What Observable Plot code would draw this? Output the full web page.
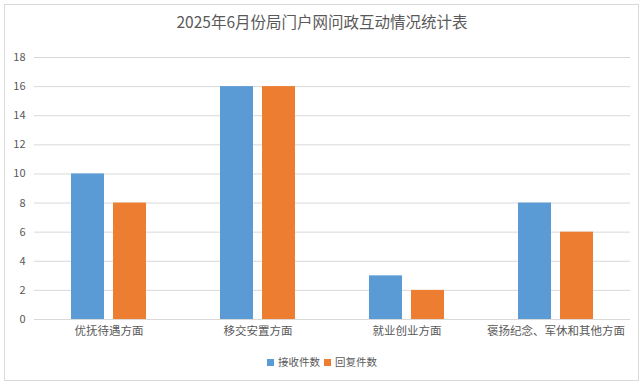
<!DOCTYPE html>
<html><head><meta charset="utf-8">
<script src="https://cdn.jsdelivr.net/npm/d3@7"></script>
<script src="https://cdn.jsdelivr.net/npm/@observablehq/plot@0.6"></script>
<style>
body{margin:0;background:#fff;font-family:"Noto Sans CJK SC","Noto Sans",sans-serif;}
#wrap{position:relative;width:644px;height:387px;}
#frame{position:absolute;left:4px;top:4px;width:635px;height:377px;border:1px solid #d9d9d9;box-sizing:border-box;}
#title{position:absolute;left:0;top:10px;width:644px;text-align:center;font-size:15.5px;color:#595959;}
#chart{position:absolute;left:0;top:45px;}
#legend{position:absolute;left:0;top:354px;width:644px;text-align:center;font-size:10.5px;color:#595959;}
#legend span.sw{display:inline-block;width:7px;height:7px;margin-right:4px;vertical-align:0px;}
#legend span.it{margin:0 2px;}
</style></head>
<body><div id="wrap"><div id="frame"></div>
<div id="title">2025年6月份局门户网问政互动情况统计表</div>
<div id="chart"></div>
<div id="legend"></div></div>
<script>
const categories = ["优抚待遇方面","移交安置方面","就业创业方面","褒扬纪念、军休和其他方面"];
const seriesNames = ["接收件数","回复件数"];
const received = [10,16,3,8];
const replied = [8,16,2,6];
const colors = ["#5B9BD5","#ED7D31"];
const yTicks = [0,2,4,6,8,10,12,14,16,18];

const data = [];
categories.forEach((c,i)=>{
  data.push({cat:c, series:seriesNames[0], value:received[i]});
  data.push({cat:c, series:seriesNames[1], value:replied[i]});
});

const chart = Plot.plot({
  width:644, height:300,
  marginLeft:33, marginRight:14, marginTop:12, marginBottom:26,
  style:{fontFamily:'"Noto Sans CJK SC","Noto Sans",sans-serif', color:"#595959", background:"transparent"},
  fx:{domain:categories, padding:0, label:null, axis:null},
  x:{domain:seriesNames, paddingInner:0.214, paddingOuter:0.88, axis:null},
  y:{domain:[0,18], ticks:yTicks, label:null, axis:null},
  color:{domain:seriesNames, range:colors},
  marks:[
    Plot.gridY(yTicks,{stroke:"#d9d9d9", strokeOpacity:1}),
    Plot.axisY({ticks:yTicks, tickSize:0, tickPadding:9, label:null, fontSize:11}),
    Plot.barY(data,{fx:"cat", x:"series", y:"value", fill:"series"}),
    Plot.axisFx({anchor:"bottom", tickSize:0, tickPadding:7, label:null, fontSize:11.5})
  ]
});
document.getElementById("chart").appendChild(chart);

const lg = document.getElementById("legend");
seriesNames.forEach((s,i)=>{
  const it = document.createElement("span");
  it.className="it";
  it.innerHTML = `<span class="sw" style="background:${colors[i]}"></span>${s}`;
  lg.appendChild(it);
});
</script></body></html>
